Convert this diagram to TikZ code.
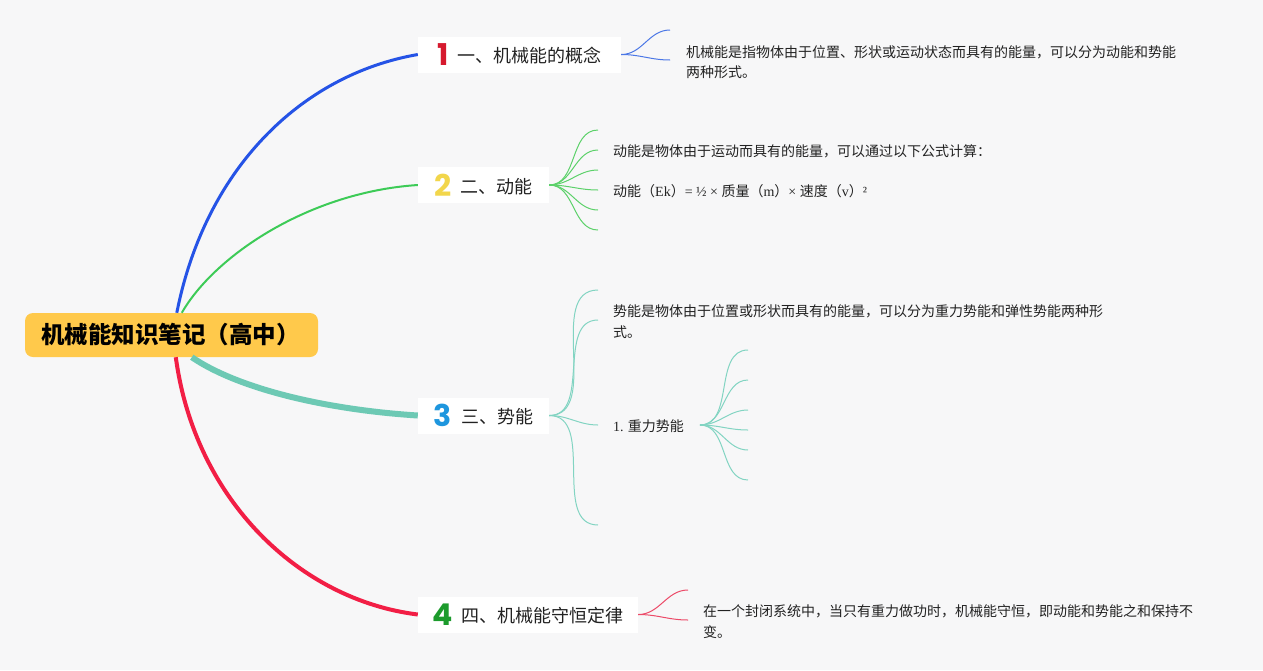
\documentclass[tikz,border=0pt]{standalone}
\usepackage{fontspec}
\setmainfont{Noto Sans CJK SC}
\newfontfamily\numfont{Poppins}
\newfontfamily\latfont{Liberation Serif}
\definecolor{bg}{HTML}{F7F7F8}
\definecolor{rootfill}{HTML}{FFC94B}
\definecolor{cblue}{HTML}{2553E6}
\definecolor{cgreen}{HTML}{3DCB57}
\definecolor{cteal}{HTML}{6DC9B4}
\definecolor{cred}{HTML}{F21E45}
\definecolor{tblue}{HTML}{4B77E6}
\definecolor{tgreen}{HTML}{5CD16A}
\definecolor{tteal}{HTML}{82D4C2}
\definecolor{tred}{HTML}{EC4A68}
\definecolor{n1}{HTML}{D6192E}
\definecolor{n2}{HTML}{F2D64B}
\definecolor{n3}{HTML}{1E96DE}
\definecolor{n4}{HTML}{1C9B2C}
\definecolor{txt}{HTML}{222222}
\newcommand\bnum[2]{\raisebox{-3pt}{\color{#1}\numfont\bfseries\fontsize{30}{30}\selectfont #2}\hspace{9pt}}
\begin{document}
\begin{tikzpicture}[x=1pt,y=-1pt,
  rootbox/.style={fill=rootfill,rounded corners=8pt,minimum width=293pt,minimum height=44pt,inner sep=0pt,
    font=\fontsize{23.5}{26}\selectfont\bfseries,text=black},
  branch/.style={fill=white,minimum height=36pt,inner sep=0pt,font=\fontsize{18}{20}\selectfont,text=txt},
  leaf/.style={anchor=west,inner sep=0pt,align=left,font=\fontsize{14}{20.5}\selectfont,text=txt},
  thin/.style={line width=1pt},
]
\useasboundingbox[fill=bg] (0,0) rectangle (1263,670);

% root
\node[rootbox] (root) at (171.5,335) {\hspace*{16pt}\makebox[277pt][l]{机械能知识笔记（高中）}};

% branch nodes
\node[branch,minimum width=203pt] (b1) at (519.5,54.5) {\bnum{n1}{1}一、机械能的概念};
\node[branch,minimum width=131pt] (b2) at (483.5,185) {\bnum{n2}{2}二、动能};
\node[branch,minimum width=131pt] (b3) at (483.5,415.5) {\bnum{n3}{3}三、势能};
\node[branch,minimum width=220pt] (b4) at (528,614.5) {\bnum{n4}{4}四、机械能守恒定律};

% main connectors
\draw[cblue,line width=3pt] ([xshift=152pt]root.north west) .. controls (205,170) and (300,75) .. (b1.west);
\draw[cgreen,line width=2pt] ([xshift=157pt]root.north west) .. controls (215,255) and (310,192) .. (b2.west);
\draw[cteal,line width=6pt] ([xshift=167pt]root.south west) .. controls (240,390) and (330,410) .. (b3.west);
\draw[cred,line width=4pt] ([xshift=151pt]root.south west) .. controls (195,500) and (300,600) .. (b4.west);

% leaves of 1
\coordinate (e11) at (670,30);
\coordinate (e12) at (670,60);
\draw[tblue,thin] (b1.east) to[out=0,in=180] (e11);
\draw[tblue,thin] (b1.east) to[out=0,in=180] (e12);
\node[leaf] (l1) at (686,62) {机械能是指物体由于位置、形状或运动状态而具有的能量，可以分为动能和势能\\两种形式。};

% leaves of 2
\foreach \i/\y in {1/130,2/150,3/170,4/190,5/210,6/230}{
  \coordinate (e2\i) at (598,\y);
  \draw[tgreen,thin] (b2.east) to[out=0,in=180] (e2\i);
}
\node[leaf] (l21) at (613,151) {动能是物体由于运动而具有的能量，可以通过以下公式计算：};
\node[leaf] (l22) at (613,191) {动能（{\latfont Ek}）{\latfont = ½ × }质量（{\latfont m}）{\latfont × }速度（{\latfont v}）{\latfont ²}};

% leaves of 3
\foreach \i/\y in {1/290,2/320,3/425,4/525}{
  \coordinate (e3\i) at (598,\y);
  \draw[tteal,thin] (b3.east) to[out=0,in=180] (e3\i);
}
\node[leaf] (l31) at (613,321.5) {势能是物体由于位置或形状而具有的能量，可以分为重力势能和弹性势能两种形\\式。};
\node[leaf] (l32) at (613,426) {{\latfont 1.} 重力势能};
\coordinate (g0) at (700,425);
\foreach \i/\y in {1/350,2/380,3/410,4/430,5/450,6/480}{
  \coordinate (g\i) at (748,\y);
  \draw[tteal,thin] (g0) to[out=0,in=180] (g\i);
}

% leaves of 4
\coordinate (e41) at (688,590);
\coordinate (e42) at (688,620);
\draw[tred,thin] (b4.east) to[out=0,in=180] (e41);
\draw[tred,thin] (b4.east) to[out=0,in=180] (e42);
\node[leaf] (l4) at (703,621.5) {在一个封闭系统中，当只有重力做功时，机械能守恒，即动能和势能之和保持不\\变。};
\end{tikzpicture}
\end{document}
